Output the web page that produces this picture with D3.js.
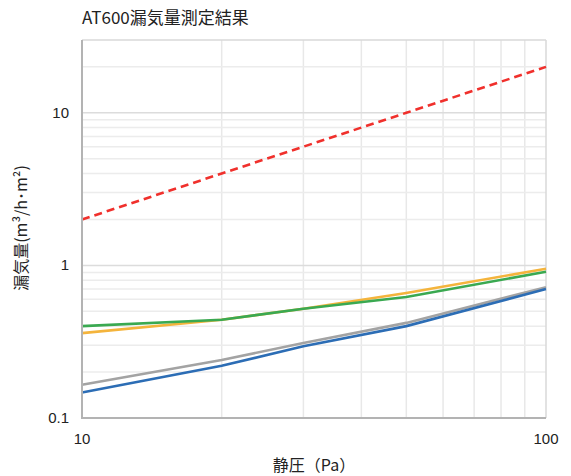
<!DOCTYPE html>
<html><head><meta charset="utf-8">
<script src="https://cdn.jsdelivr.net/npm/d3@7"></script>
<style>
body{margin:0;background:#fff;}
text{font-family:"Noto Sans CJK JP","Noto Sans",sans-serif;}
.num{font-family:"Liberation Sans",Arial,sans-serif;}
</style></head>
<body><svg id="c" width="571" height="476"></svg>
<script>
const pressures = [10, 20, 30, 50, 100];
const seriesNames = ["gray", "blue", "orange", "green", "red"];
const grayVals = [0.165, 0.24, 0.31, 0.42, 0.72];
const blueVals = [0.147, 0.22, 0.295, 0.40, 0.70];
const orangeVals = [0.36, 0.44, 0.52, 0.66, 0.95];
const greenVals = [0.40, 0.44, 0.52, 0.62, 0.91];
const redVals = [2, 4, 6, 10, 20];
const yTickLabels = [0.1, 1, 10];
const xTickLabels = [10, 100];

const svg = d3.select("#c");
const L = 82, R = 546, T = 40, B = 418;
const x = d3.scaleLog().domain([10, 100]).range([L, R]);
const y = d3.scaleLog().domain([0.1, 30]).range([B, T]);

// grid
const xMinor = d3.range(20, 100, 10);
const yMinor = [0.2,0.3,0.4,0.5,0.6,0.7,0.8,0.9,1,2,3,4,5,6,7,8,9,10,20];
svg.append("g").selectAll("line").data(xMinor).join("line")
  .attr("x1", d => x(d)).attr("x2", d => x(d)).attr("y1", T).attr("y2", B)
  .attr("stroke", "#e8e8e8").attr("stroke-width", 1.5);
svg.append("g").selectAll("line").data(yMinor).join("line")
  .attr("x1", L).attr("x2", R).attr("y1", d => y(d)).attr("y2", d => y(d))
  .attr("stroke", d => (d === 1 || d === 10) ? "#dcdcdc" : "#ececec").attr("stroke-width", 1.5);
// top/right border
svg.append("line").attr("x1", L).attr("x2", R).attr("y1", T).attr("y2", T).attr("stroke", "#d8d8d8").attr("stroke-width", 1.5);
svg.append("line").attr("x1", R).attr("x2", R).attr("y1", T).attr("y2", B).attr("stroke", "#d8d8d8").attr("stroke-width", 1.5);

const line = d3.line().x((d, i) => x(pressures[i])).y(d => y(d));
const series = [
  {v: grayVals, c: "#a3a3a3"},
  {v: blueVals, c: "#2c6db5"},
  {v: orangeVals, c: "#f4b43c"},
  {v: greenVals, c: "#3aa951"},
  {v: redVals, c: "#f0302c", dash: "8,5"}
];
series.forEach(s => {
  svg.append("path").attr("d", line(s.v)).attr("fill", "none")
    .attr("stroke", s.c).attr("stroke-width", 2.6)
    .attr("stroke-dasharray", s.dash || null);
});

// axes
svg.append("line").attr("x1", L).attr("x2", L).attr("y1", T).attr("y2", B + 1).attr("stroke", "#b3b3b3").attr("stroke-width", 2);
svg.append("line").attr("x1", L - 1).attr("x2", R).attr("y1", B).attr("y2", B).attr("stroke", "#b3b3b3").attr("stroke-width", 2);

svg.append("g").selectAll("text").data(yTickLabels).join("text").attr("class", "num")
  .attr("x", 69).attr("y", d => y(d) + 5).attr("text-anchor", "end")
  .attr("font-size", 15).attr("fill", "#222").text(d => d);
svg.append("g").selectAll("text").data(xTickLabels).join("text").attr("class", "num")
  .attr("x", d => x(d)).attr("y", 444).attr("text-anchor", "middle")
  .attr("font-size", 15).attr("fill", "#222").text(d => d);

svg.append("text").attr("x", 82).attr("y", 24).attr("font-size", 17).attr("fill", "#222").text("AT600漏気量測定結果");
svg.append("text").attr("x", 314).attr("y", 471).attr("text-anchor", "middle").attr("font-size", 16).attr("fill", "#222").text("静圧（Pa）");
svg.append("text").attr("transform", "translate(27,228) rotate(-90)").attr("text-anchor", "middle")
  .attr("font-size", 16).attr("fill", "#222").text("漏気量(m³/h･m²)");
</script></body></html>
